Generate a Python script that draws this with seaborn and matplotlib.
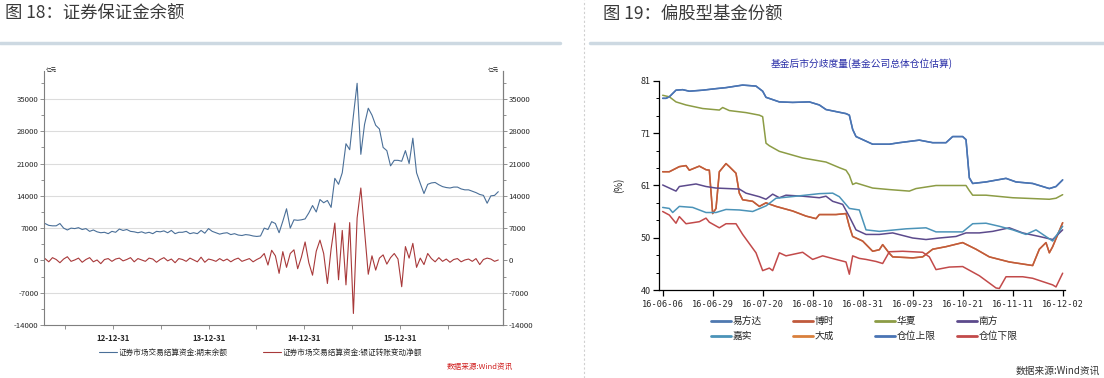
import numpy as np
import pandas as pd
import matplotlib
matplotlib.use("Agg")
import matplotlib.pyplot as plt
import matplotlib.dates as mdates
from matplotlib.lines import Line2D
from matplotlib.ticker import FixedLocator, AutoMinorLocator
import seaborn as sns

W, H = 1104, 378

# 图18 证券保证金余额 (双周采样, 亿元)
margin_start, margin_end = "2012-04-14", "2017-01-10"
margin_year_ticks = ["2012-12-31", "2013-12-31", "2014-12-31", "2015-12-31"]
margin_balance = [
    8000, 7600, 7500, 7500, 8000, 7000, 6600, 7000, 6900, 7100,
    6700, 6900, 6300, 6600, 6200, 6000, 6100, 5800, 6300, 6100,
    6800, 6500, 6700, 6300, 6200, 6000, 6200, 5900, 6100, 5800,
    6300, 6200, 6400, 6000, 6500, 5800, 6100, 6100, 6300, 5800,
    6000, 5800, 6500, 5900, 6900, 6300, 6000, 5700, 5900, 6000,
    5600, 5800, 5500, 5400, 5600, 5500, 5300, 5200, 5300, 7000,
    6700, 8400, 8000, 6000, 8500, 11200, 7000, 8800, 8700, 8800,
    9000, 10300, 11900, 10500, 13200, 12500, 13000, 11500, 17800, 16500,
    19000, 25300, 24000, 31400, 38400, 23000, 29500, 33000, 31500, 29300,
    28500, 24500, 23800, 20500, 21700, 21700, 21500, 23800, 21000, 26500,
    19000, 16700, 14500, 16500, 16800, 16900, 16400, 16000, 15800, 15700,
    15900, 15900, 15500, 15300, 15300, 15000, 14700, 14300, 14100, 12400,
    14000, 14100, 14900,
]
margin_transfer = [
    400, -300, 600, 200, -500, 300, 800, -200, 100, 500,
    -400, 200, 600, -300, 100, -700, 200, 400, -200, 300,
    500, -100, 200, 600, -300, 400, 100, -200, 500, 300,
    -400, 200, 600, -100, 300, -500, 400, 200, -200, 500,
    100, -300, 700, -400, 300, 100, -200, 400, -100, 300,
    -300, 200, 500, -200, 100, 400, -300, 200, 600, 1500,
    -1000, 2200, 1000, -2800, 1900, -1500, 1500, 2300, -1800, 700,
    4000, -500, -3200, 2000, 4400, 1500, -5000, 2500, 8100, -4200,
    6500, -5300, 8200, -11500, 9200, 15700, 6400, -3000, 1000, -2100,
    500, 1200, -800, 600, 1500, 300, -5700, 3000, 500, 3700,
    -1500, 500, -900, 1500, 400, -300, 600, -200, 300, -400,
    200, 400, -300, 100, 300, -200, 400, -900, 200, 500,
    300, -200, 100,
]

# 图19 偏股型基金仓位 (交易日序号, %)
trade_tick_labels = ["16-06-06", "16-06-29", "16-07-20", "16-08-10", "16-08-31",
                     "16-09-23", "16-10-21", "16-11-11", "16-12-02"]
pct_tick_labels = ["40", "50", "61", "71", "81"]

efd_days = [0, 1, 2, 4, 6, 8, 12, 16, 19, 24, 28, 30, 31, 35, 39, 44, 47, 49, 52, 55,
            56, 57, 58, 60, 63, 68, 71, 77, 81, 85, 87, 90, 91, 92, 93, 97, 103, 106,
            111, 116, 118, 120]
efd_vals = [77.6, 77.6, 77.9, 79.2, 79.3, 79.0, 79.2, 79.5, 79.7, 80.2, 80.0, 79.0,
            77.8, 76.9, 76.8, 76.9, 76.3, 75.4, 75.0, 74.6, 74.3, 71.5, 70.1, 69.5,
            68.6, 68.6, 68.9, 69.4, 68.9, 68.9, 70.1, 70.1, 69.5, 62.0, 60.9, 61.2,
            61.9, 61.2, 60.9, 59.9, 60.3, 61.6]

hx_days = [0, 2, 4, 7, 12, 17, 18, 20, 25, 29, 30, 31, 32, 35, 42, 49, 53, 55, 56,
           57, 58, 63, 68, 74, 76, 82, 91, 92, 93, 97, 105, 116, 118, 120]
hx_vals = [78.2, 77.9, 76.9, 76.3, 75.6, 75.3, 75.8, 75.2, 74.8, 74.3, 74.0, 68.8,
           68.3, 67.2, 65.9, 65.1, 64.0, 63.5, 62.5, 60.7, 61.0, 60.0, 59.7, 59.4,
           59.9, 60.5, 60.5, 59.5, 58.6, 58.6, 58.1, 57.8, 58.0, 58.7]

bs_days = [0, 2, 5, 7, 8, 11, 13, 14, 15, 16, 17, 19, 20, 22, 23, 24, 27, 29, 31, 34,
           39, 43, 46, 47, 52, 55, 56, 57, 59, 60, 63, 65, 66, 68, 69, 75, 78, 81, 85,
           90, 94, 98, 104, 111, 113, 115, 116, 117, 120]
bs_vals = [63.2, 63.2, 64.2, 64.4, 63.5, 64.3, 63.6, 63.5, 55.0, 56.0, 63.2, 64.8,
           64.2, 62.9, 59.0, 57.7, 57.4, 56.4, 57.1, 56.4, 55.5, 54.5, 54.0, 54.8,
           54.8, 55.0, 52.5, 50.5, 49.9, 49.6, 47.6, 47.9, 48.9, 47.2, 46.5, 46.3,
           46.5, 48.0, 48.5, 49.3, 48.0, 46.5, 45.5, 44.8, 48.0, 49.3, 47.3, 48.5, 53.2]

nf_days = [0, 2, 4, 5, 10, 13, 16, 23, 25, 29, 31, 33, 35, 37, 42, 47, 49, 51, 54, 56,
           58, 61, 65, 69, 75, 79, 83, 88, 91, 95, 99, 104, 108, 113, 117, 120]
nf_vals = [60.6, 60.0, 59.4, 60.3, 60.8, 60.3, 60.0, 59.8, 59.0, 58.3, 57.8, 58.8,
           58.1, 58.6, 58.4, 58.1, 58.4, 57.4, 56.8, 54.4, 51.8, 50.9, 50.9, 51.2,
           50.2, 49.9, 50.2, 50.5, 51.2, 51.2, 51.5, 52.2, 51.2, 50.5, 49.9, 51.8]

js_days = [0, 2, 3, 5, 9, 13, 16, 19, 23, 27, 31, 34, 40, 47, 51, 53, 56, 59, 61, 65,
           73, 79, 82, 90, 93, 97, 101, 105, 109, 112, 117, 120]
js_vals = [56.2, 56.0, 55.2, 56.4, 56.2, 55.2, 55.2, 55.8, 55.7, 55.4, 56.5, 58.0,
           58.4, 58.9, 59.0, 58.3, 56.0, 55.7, 51.8, 51.5, 52.0, 52.2, 51.4, 51.4,
           53.0, 53.1, 52.5, 51.8, 50.9, 51.8, 49.6, 52.5]

dc_days = bs_days
dc_vals = bs_vals

upper_days = efd_days
upper_vals = efd_vals

lower_days = [0, 2, 4, 5, 7, 11, 13, 14, 17, 19, 22, 24, 28, 30, 32, 33, 35, 37, 42,
              45, 48, 52, 55, 56, 57, 59, 61, 64, 66, 68, 72, 78, 80, 82, 86, 90, 95,
              100, 101, 103, 108, 111, 117, 118, 120]
lower_vals = [55.4, 54.7, 53.1, 54.4, 53.0, 53.4, 54.1, 53.3, 52.2, 53.0, 53.0, 50.9,
              47.3, 43.8, 44.3, 43.8, 47.3, 46.7, 47.4, 46.0, 46.7, 46.0, 45.5, 43.1,
              46.7, 46.2, 46.0, 45.6, 45.2, 47.5, 47.6, 47.4, 46.5, 44.0, 44.5, 44.6,
              42.8, 40.4, 40.3, 42.6, 42.6, 42.3, 41.0, 40.6, 43.3]

fund_series = [
    ("大成", dc_days, dc_vals, "#d9803c"),
    ("易方达", efd_days, efd_vals, "#4f79b0"),
    ("华夏", hx_days, hx_vals, "#8c9c45"),
    ("博时", bs_days, bs_vals, "#c05a3c"),
    ("南方", nf_days, nf_vals, "#5c4a8c"),
    ("嘉实", js_days, js_vals, "#4b93b8"),
    ("仓位下限", lower_days, lower_vals, "#c24a4a"),
    ("仓位上限", upper_days, upper_vals, "#4a74b4"),
]
legend_columns = [["易方达", "嘉实"], ["博时", "大成"], ["华夏", "仓位上限"], ["南方", "仓位下限"]]

sns.set_theme(style="white")
plt.rcParams["font.family"] = ["Noto Sans CJK SC", "DejaVu Sans"]
plt.rcParams["axes.unicode_minus"] = False


def rect(x0, y0, x1, y1):
    return [x0 / W, 1 - y1 / H, (x1 - x0) / W, (y1 - y0) / H]


fig = plt.figure(figsize=(W / 100, H / 100), dpi=100)

# 标题与分隔线
fig.text(5 / W, 1 - 14 / H, "图 18：证券保证金余额", fontsize=12.5, color="#3a3a3a", va="center")
fig.text(603 / W, 1 - 14 / H, "图 19：偏股型基金份额", fontsize=12.5, color="#3a3a3a", va="center")
fig.add_artist(Line2D([0, 560 / W], [1 - 43 / H] * 2, color="#cdd9e2", lw=2.5))
fig.add_artist(Line2D([590 / W, 1], [1 - 43 / H] * 2, color="#cdd9e2", lw=2.5))
fig.add_artist(Line2D([584 / W] * 2, [0, 1], color="#d0d0d0", lw=0.8, ls=(0, (2, 2))))

# ---- 图18
margin = pd.DataFrame({
    "date": pd.date_range(margin_start, margin_end, periods=len(margin_balance)),
    "balance": margin_balance,
    "transfer": margin_transfer,
})
ax1 = fig.add_axes(rect(44, 71.3, 503, 325))
sns.lineplot(data=margin, x="date", y="balance", ax=ax1, color="#4a6f98", lw=0.8)
sns.lineplot(data=margin, x="date", y="transfer", ax=ax1, color="#a8393a", lw=0.8)
ax1.set_ylim(-14000, 41000)
ax1.set_xlim(pd.Timestamp("2012-04-10"), pd.Timestamp("2017-01-28"))
ax1.set_xlabel("")
ax1.set_ylabel("")
yt = [-14000, -7000, 0, 7000, 14000, 21000, 28000, 35000]
ax1.yaxis.set_major_locator(FixedLocator(yt))
ax1.yaxis.set_minor_locator(AutoMinorLocator(2))
ax1.xaxis.set_major_locator(FixedLocator(mdates.date2num(pd.to_datetime(margin_year_ticks))))
ax1.xaxis.set_minor_locator(mdates.MonthLocator(bymonth=6, bymonthday=30))
ax1.xaxis.set_major_formatter(mdates.DateFormatter("%y-%m-%d"))
for v in yt[1:]:
    if v != 0:
        ax1.axhline(v, color="#dcdcdc", lw=0.8, zorder=0)
for s in ["left", "bottom", "right"]:
    ax1.spines[s].set_color("#7f7f7f")
    ax1.spines[s].set_linewidth(0.8)
ax1.spines["top"].set_visible(False)
ax1.tick_params(axis="y", which="both", direction="out", length=3, width=0.6,
                color="#7f7f7f", labelsize=5.6, pad=1, left=True)
ax1.tick_params(axis="y", which="minor", length=2)
ax1.tick_params(axis="x", which="both", direction="out", length=3, width=0.6,
                color="#7f7f7f", labelsize=5.6, pad=3.5, bottom=True)
for lab in ax1.get_xticklabels():
    lab.set_fontweight("bold")
ax1r = ax1.twinx()
ax1r.set_ylim(ax1.get_ylim())
ax1r.yaxis.set_major_locator(FixedLocator(yt))
ax1r.yaxis.set_minor_locator(AutoMinorLocator(2))
ax1r.grid(False)
for s in ["left", "bottom", "top"]:
    ax1r.spines[s].set_visible(False)
ax1r.spines["right"].set_color("#7f7f7f")
ax1r.spines["right"].set_linewidth(0.8)
ax1r.tick_params(axis="y", which="both", direction="out", length=3, width=0.6,
                 color="#7f7f7f", labelsize=5.6, pad=1, right=True)
ax1r.tick_params(axis="y", which="minor", length=2)
fig.text(46 / W, 1 - 70 / H, "亿元", fontsize=4, color="#222", va="center")
fig.text(488 / W, 1 - 70 / H, "亿元", fontsize=4, color="#222", va="center")
h1 = [Line2D([], [], color="#4a6f98", lw=0.8), Line2D([], [], color="#a8393a", lw=0.8)]
fig.legend(h1, ["证券市场交易结算资金:期末余额", "证券市场交易结算资金:银证转账变动净额"],
           loc="center left", bbox_to_anchor=(99 / W, 1 - 353 / H), ncol=2, frameon=False,
           fontsize=5.5, handlelength=2.4, handletextpad=0.2, columnspacing=4.6,
           borderpad=0, borderaxespad=0)
fig.text(513 / W, 1 - 367 / H, "数据来源:Wind资讯", fontsize=5.5, color="#d02020",
         style="italic", ha="right", va="center")

# ---- 图19
ax2 = fig.add_axes(rect(659, 81, 1065, 290))
lines = {}
for name, days, vals, col in fund_series:
    sns.lineplot(x=days, y=vals, ax=ax2, color=col, lw=1.1)
    lines[name] = Line2D([], [], color=col, lw=2)
ax2.set_xlim(-1.1, 120.7)
ax2.set_ylim(40, 81)
ax2.set_xticks(np.arange(0, 121, 15))
ax2.set_xticklabels(trade_tick_labels, family="DejaVu Sans Mono", fontsize=6.2)
ax2.set_yticks(np.linspace(40, 81, 5))
ax2.set_yticklabels(pct_tick_labels, fontsize=6.5)
ax2.yaxis.set_minor_locator(FixedLocator(np.linspace(40, 81, 13)))
ax2.grid(False)
for s in ["top", "right"]:
    ax2.spines[s].set_visible(False)
for s in ["left", "bottom"]:
    ax2.spines[s].set_color("black")
    ax2.spines[s].set_linewidth(0.9)
ax2.tick_params(axis="both", which="major", direction="out", length=4.5, width=0.9,
                color="black", pad=1.5, left=True, bottom=True)
ax2.tick_params(axis="x", which="major", pad=3)
ax2.tick_params(axis="y", which="minor", direction="out", length=2.5, width=0.7,
                color="black", left=True)
ax2.set_ylabel("(%)", fontsize=7, labelpad=12)
ax2.set_title("基金后市分歧度量(基金公司总体仓位估算)", fontsize=7, color="#2a2fa8", pad=10)
for k, names in enumerate(legend_columns):
    fig.legend([lines[n] for n in names], names, loc="upper left",
               bbox_to_anchor=((711 + 82 * k) / W, 1 - 316 / H), ncol=1, frameon=False,
               fontsize=7, handlelength=2.1, handletextpad=0.1, labelspacing=0.55,
               borderpad=0, borderaxespad=0)
fig.text(1100 / W, 1 - 371 / H, "数据来源:Wind资讯", fontsize=7, color="#333",
         ha="right", va="center")

fig.savefig("out.png", dpi=100)
